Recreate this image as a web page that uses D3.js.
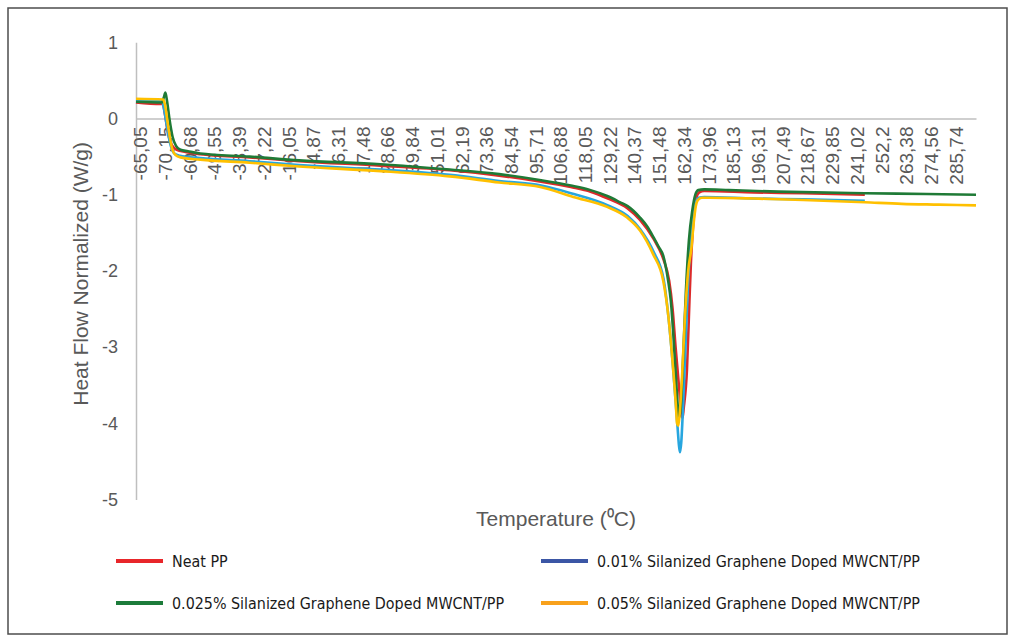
<!DOCTYPE html>
<html>
<head>
<meta charset="utf-8">
<script src="https://cdn.jsdelivr.net/npm/d3@7/dist/d3.min.js"></script>
<style>
  html, body { margin: 0; padding: 0; background: #fff; }
  svg { display: block; }
</style>
</head>
<body>
<svg id="chart" width="1015" height="641"></svg>
<script>
// Category labels along the scan (temperature, °C, decimal comma)
const tempLabels = ["-65,05","-70,15","-60,68","-49,55","-38,39","-27,22","-16,05","-4,87","6,31","17,48",
  "28,66","39,84","51,01","62,19","73,36","84,54","95,71","106,88","118,05","129,22","140,37","151,48",
  "162,34","173,96","185,13","196,31","207,49","218,67","229,85","241,02","252,2","263,38","274,56","285,74"];

const yTicks = [1, 0, -1, -2, -3, -4, -5];

// Each series: [scan position (in label intervals), heat flow W/g]
const neatPP = [[0,0.21],[1.0,0.19],[1.08,0.19],[1.18,0.04],[1.3,-0.2],[1.45,-0.35],[1.65,-0.41],[2.0,-0.44],
  [2.6,-0.47],[4.6,-0.51],[6.6,-0.56],[9.9,-0.62],[12.7,-0.68],[14.7,-0.75],[16.4,-0.83],[17.6,-0.90],
  [18.4,-0.96],[19.1,-1.05],[19.9,-1.18],[20.4,-1.33],[20.95,-1.58],[21.35,-1.85],[21.58,-2.13],[21.72,-2.5],
  [21.84,-3.0],[22.0,-3.6],[22.08,-3.87],[22.12,-3.93],[22.17,-3.8],[22.3,-3.3],[22.4,-2.4],[22.46,-1.9],
  [22.53,-1.5],[22.6,-1.22],[22.68,-1.04],[22.8,-0.97],[23.0,-0.95],[25.0,-0.97],[27.0,-0.98],[29.5,-1.0]];

const pct001 = [[0,0.24],[1.05,0.23],[1.12,0.15],[1.25,-0.1],[1.4,-0.35],[1.55,-0.46],[1.78,-0.49],[2.6,-0.52],
  [4.6,-0.56],[6.6,-0.61],[8.66,-0.65],[9.9,-0.67],[12.7,-0.74],[14.7,-0.82],[16.4,-0.88],[17.6,-0.98],
  [19.1,-1.14],[19.9,-1.28],[20.4,-1.45],[20.95,-1.75],[21.35,-2.1],[21.55,-2.6],[21.72,-3.2],[21.85,-3.75],
  [21.92,-4.05],[21.98,-4.3],[22.02,-4.38],[22.07,-4.25],[22.14,-3.8],[22.24,-3.0],[22.34,-2.2],[22.44,-1.65],
  [22.54,-1.3],[22.64,-1.12],[22.78,-1.04],[23.0,-1.03],[25.0,-1.05],[27.0,-1.06],[29.5,-1.08]];

const pct0025 = [[0,0.22],[1.05,0.21],[1.13,0.28],[1.19,0.34],[1.26,0.22],[1.36,-0.02],[1.48,-0.24],[1.62,-0.36],
  [1.8,-0.41],[2.1,-0.43],[2.6,-0.46],[4.6,-0.50],[6.6,-0.55],[9.9,-0.60],[12.7,-0.67],[14.7,-0.73],
  [16.4,-0.81],[17.6,-0.88],[18.4,-0.94],[19.1,-1.02],[19.6,-1.10],[19.9,-1.15],[20.4,-1.30],[20.7,-1.42],
  [20.95,-1.56],[21.15,-1.68],[21.34,-1.80],[21.54,-2.13],[21.65,-2.4],[21.82,-3.2],[21.95,-3.85],[21.99,-3.92],
  [22.05,-3.8],[22.15,-3.1],[22.26,-2.25],[22.38,-1.6],[22.52,-1.2],[22.64,-1.0],[22.76,-0.94],[23.0,-0.93],
  [24.0,-0.94],[26.0,-0.96],[29.5,-0.98],[32.0,-0.99],[34.0,-1.0]];

const pct005 = [[0,0.26],[1.1,0.25],[1.16,0.2],[1.3,-0.1],[1.45,-0.38],[1.6,-0.48],[1.8,-0.51],[2.6,-0.54],
  [4.6,-0.58],[6.6,-0.63],[9.9,-0.69],[12.7,-0.76],[14.7,-0.84],[16.36,-0.90],[17.7,-1.03],[19.07,-1.16],
  [19.88,-1.30],[20.4,-1.47],[20.93,-1.78],[21.34,-2.13],[21.55,-2.6],[21.72,-3.2],[21.85,-3.75],[21.9,-4.0],
  [21.95,-4.03],[22.0,-3.9],[22.1,-3.4],[22.22,-2.6],[22.35,-2.0],[22.48,-1.7],[22.58,-1.35],[22.66,-1.15],
  [22.74,-1.07],[22.9,-1.04],[23.2,-1.04],[25.0,-1.05],[27.0,-1.07],[29.5,-1.10],[31.0,-1.12],[32.5,-1.13],[34.0,-1.14]];

const seriesNames = ["Neat PP", "0.01% Silanized Graphene Doped MWCNT/PP",
  "0.025% Silanized Graphene Doped MWCNT/PP", "0.05% Silanized Graphene Doped MWCNT/PP"];
const lineColors = ["#dc2a2a", "#27a6df", "#1f7a36", "#ffc000"];
const legendColors = ["#e8262a", "#3b56a5", "#1c7b3a", "#f8a11c"];
const seriesData = [neatPP, pct001, pct0025, pct005];

const svg = d3.select("#chart");
const plot = { left: 136, right: 976, top: 42.3, bottom: 499.5 };

const x = d3.scaleLinear().domain([0, 34]).range([plot.left, plot.right]);
const y = d3.scaleLinear().domain([-5, 1]).range([plot.bottom, plot.top]);

// Outer frame
svg.append("rect")
  .attr("x", 8).attr("y", 8).attr("width", 999).attr("height", 626)
  .attr("fill", "#fff").attr("stroke", "#4d4d4d").attr("stroke-width", 1.5);

const axisFont = "'Liberation Sans', Arial, sans-serif";

// Y axis (vertical line, labels only)
const yAxis = svg.append("g")
  .attr("transform", `translate(${plot.left},0)`)
  .call(d3.axisLeft(y).tickValues(yTicks).tickSize(0).tickPadding(18).tickFormat(d3.format("d")));
yAxis.select(".domain").attr("stroke", "#bfbfbf").attr("stroke-width", 1.5);
yAxis.selectAll("text")
  .attr("font-family", axisFont).attr("font-size", 18).attr("fill", "#595959")
  .text(d => String(d).replace("\u2212", "-"));

// X axis at heat flow = 0 with rotated category labels
const xAxis = svg.append("g")
  .attr("transform", `translate(0,${y(0)})`)
  .call(d3.axisBottom(x).tickValues(d3.range(tempLabels.length)).tickSize(0)
    .tickFormat(i => tempLabels[i]));
xAxis.select(".domain").attr("stroke", "#bfbfbf").attr("stroke-width", 1.5);
xAxis.selectAll(".tick text")
  .attr("font-family", axisFont).attr("font-size", 19).attr("fill", "#595959")
  .attr("text-anchor", "end")
  .attr("transform", "translate(4,0) rotate(-90)")
  .attr("x", -8).attr("y", 0).attr("dy", "0.36em");

// Series lines
const line = d3.line()
  .x(d => x(d[0]))
  .y(d => y(d[1]))
  .curve(d3.curveMonotoneX);

svg.append("g").selectAll("path")
  .data(seriesData)
  .join("path")
  .attr("d", line)
  .attr("fill", "none")
  .attr("stroke", (d, i) => lineColors[i])
  .attr("stroke-width", 2.6)
  .attr("stroke-linejoin", "round");

// Axis titles
svg.append("text")
  .attr("transform", `translate(88,${(plot.top + plot.bottom) / 2 + 3}) rotate(-90)`)
  .attr("text-anchor", "middle")
  .attr("font-family", axisFont).attr("font-size", 21).attr("fill", "#595959")
  .text("Heat Flow Normalized (W/g)");

svg.append("text")
  .attr("x", (plot.left + plot.right) / 2).attr("y", 526)
  .attr("text-anchor", "middle")
  .attr("font-family", axisFont).attr("font-size", 21).attr("fill", "#595959")
  .text("Temperature (\u2070C)");

// Legend, two columns
const legendFont = "'DejaVu Sans Condensed', 'DejaVu Sans', sans-serif";
const legendCols = [116, 541];
const legendRows = [561, 603];
const legend = svg.append("g").selectAll("g")
  .data(seriesNames)
  .join("g")
  .attr("transform", (d, i) => `translate(${legendCols[i % 2]},${legendRows[Math.floor(i / 2)]})`);
legend.append("line")
  .attr("x1", 0).attr("x2", 47).attr("y1", 0).attr("y2", 0)
  .attr("stroke", (d, i) => legendColors[i]).attr("stroke-width", 4);
legend.append("text")
  .attr("x", 56).attr("y", 0).attr("dy", "0.35em")
  .attr("font-family", legendFont).attr("font-size", 15.9).attr("fill", "#1a1a1a")
  .text(d => d);
</script>
</body>
</html>
